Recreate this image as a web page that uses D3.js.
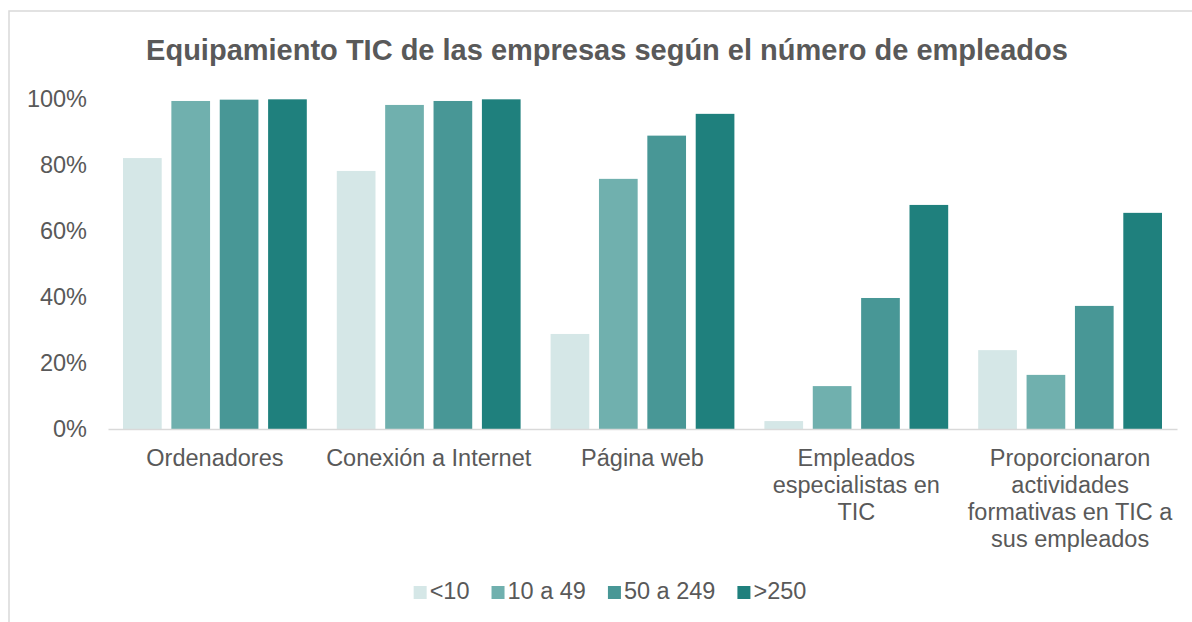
<!DOCTYPE html>
<html>
<head>
<meta charset="utf-8">
<script src="https://cdn.jsdelivr.net/npm/d3@7"></script>
<style>
  body { margin: 0; background: #fff; }
  svg text { font-family: "Liberation Sans", Arial, sans-serif; fill: #595959; }
</style>
</head>
<body>
<div id="chart"></div>
<script>
// data
const categories = [
    "Ordenadores",
    "Conexión a Internet",
    "Página web",
    "Empleados\nespecialistas en\nTIC",
    "Proporcionaron\nactividades\nformativas en TIC a\nsus empleados"
];
const seriesNames = ["<10", "10 a 49", "50 a 249", ">250"];
const valuesLt10 = [0.821, 0.782, 0.288, 0.024, 0.239];
const values10to49 = [0.994, 0.982, 0.758, 0.130, 0.164];
const values50to249 = [0.998, 0.994, 0.889, 0.397, 0.373];
const valuesGt250 = [0.999, 0.999, 0.955, 0.679, 0.655];
const yTicks = [0, 0.2, 0.4, 0.6, 0.8, 1];
const colors = ["#d5e7e7", "#70b0ae", "#489796", "#1f807d"];

const width = 1192, height = 622;
const fontSize = "23.5px";
const allValues = [valuesLt10, values10to49, values50to249, valuesGt250];

const data = categories.map((c, i) => ({
    cat: c,
    vals: seriesNames.map((s, j) => ({ series: s, value: allValues[j][i] }))
}));

const svg = d3.select("#chart")
    .append("svg")
    .attr("width", width)
    .attr("height", height);

// chart frame (cropped on right/bottom in the original)
svg.append("rect")
    .attr("x", 9)
    .attr("y", 11)
    .attr("width", 1300)
    .attr("height", 800)
    .attr("fill", "none")
    .attr("stroke", "#d9d9d9")
    .attr("stroke-width", 1.5);

svg.append("text")
    .attr("x", 607)
    .attr("y", 60)
    .attr("text-anchor", "middle")
    .style("font-size", "29px")
    .style("font-weight", "bold")
    .text("Equipamiento TIC de las empresas según el número de empleados");

const x0 = d3.scaleBand()
    .domain(categories)
    .range([108, 1177])
    .padding(0);

const x1 = d3.scaleBand()
    .domain(seriesNames)
    .range([15, x0.bandwidth() - 15])
    .paddingInner(0.2);

const y = d3.scaleLinear()
    .domain([0, 1])
    .range([429, 99]);

// y axis labels
svg.append("g")
    .attr("transform", "translate(108,0)")
    .call(d3.axisLeft(y).tickValues(yTicks).tickFormat(d3.format(".0%")).tickSize(0).tickPadding(21))
    .call(g => g.select(".domain").remove())
    .selectAll("text")
    .style("font-size", fontSize)
    .style("fill", "#595959");

// bars
svg.append("g")
    .selectAll("g")
    .data(data)
    .enter().append("g")
    .attr("transform", d => `translate(${x0(d.cat)},0)`)
    .selectAll("rect")
    .data(d => d.vals)
    .enter().append("rect")
    .attr("x", d => x1(d.series))
    .attr("width", x1.bandwidth())
    .attr("y", d => y(d.value))
    .attr("height", d => y(0) - y(d.value))
    .attr("fill", (d, i) => colors[i]);

// x axis
const xAxis = svg.append("g")
    .attr("transform", `translate(0,${y(0)})`)
    .call(d3.axisBottom(x0).tickSize(0).tickSizeOuter(0));

xAxis.select(".domain")
    .attr("stroke", "#d9d9d9")
    .attr("stroke-width", 1.5);

xAxis.selectAll(".tick text")
    .attr("y", 0)
    .attr("dy", null)
    .style("font-size", fontSize)
    .style("fill", "#595959")
    .each(function(d) {
        const t = d3.select(this);
        t.text(null);
        d.split("\n").forEach((line, i) => {
            t.append("tspan")
                .attr("x", 0)
                .attr("y", 37 + i * 27)
                .text(line);
        });
    });

// legend
const legend = svg.append("g");
const items = legend.selectAll("g")
    .data(seriesNames)
    .enter().append("g");

items.append("rect")
    .attr("y", 586)
    .attr("width", 13)
    .attr("height", 13)
    .attr("fill", (d, i) => colors[i]);

items.append("text")
    .attr("x", 16)
    .attr("y", 599)
    .style("font-size", fontSize)
    .text(d => d);

let offset = 0;
items.each(function() {
    const g = d3.select(this);
    g.attr("transform", `translate(${offset},0)`);
    offset += 16 + g.select("text").node().getComputedTextLength() + 22;
});
const legendWidth = offset - 22;
legend.attr("transform", `translate(${610 - legendWidth / 2},0)`);
</script>
</body>
</html>
